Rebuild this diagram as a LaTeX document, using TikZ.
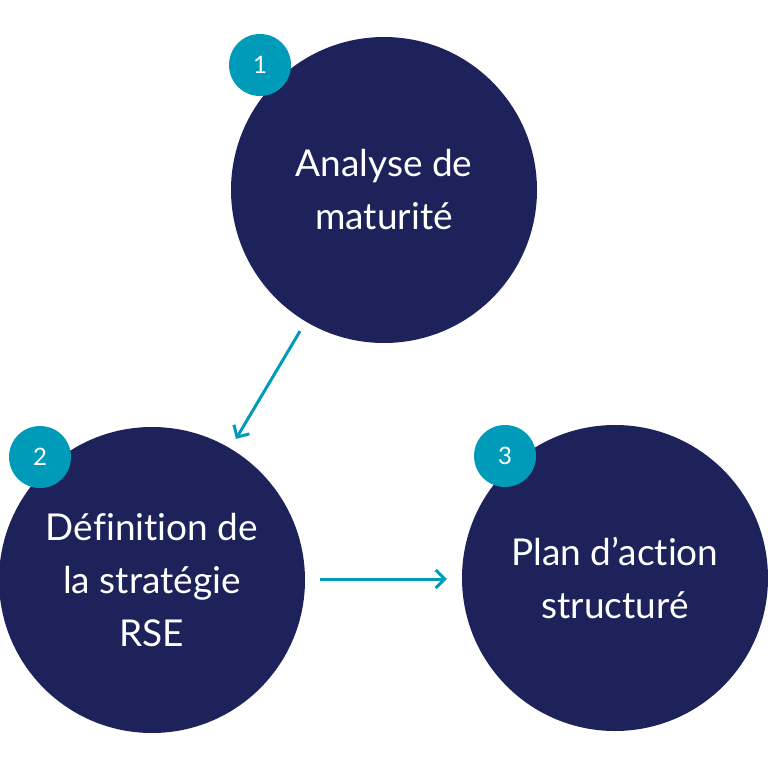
\documentclass[tikz,border=0pt]{standalone}
\usepackage{fontspec}
\setmainfont{Lato}[Ligatures={NoCommon, NoRequired, NoContextual}]
\usetikzlibrary{arrows.meta, positioning}

\definecolor{navy}{RGB}{30,34,90}
\definecolor{teal}{RGB}{0,155,185}

\begin{document}
\begin{tikzpicture}[x=1pt, y=-1pt]
        \tikzstyle{etape} = [circle, fill=navy, text=white, minimum size=306pt, inner sep=0pt, align=center, font=\fontsize{37}{53}\selectfont]
        \tikzstyle{numero} = [circle, fill=teal, text=white, minimum size=62pt, inner sep=0pt, font=\fontsize{24}{26}\selectfont]
        \tikzstyle{fleche} = [draw=teal, line width=3pt, -{Straight Barb[length=9pt, width=18pt]}, shorten <=11pt, shorten >=11pt]

        \useasboundingbox (0,0) rectangle (768,768);

        \node (analyse) [etape] at (384,190) {Analyse de \\ maturité};
        \node (strategie) [etape] at (152,580) {Définition de \\ la stratégie \\ RSE};
        \node (plan) [etape] at (615,578) {Plan d’action \\ structuré};

        \node (num1) [numero] at (260,65) {1};
        \node (num2) [numero] at (40,457) {2};
        \node (num3) [numero] at (505,456) {3};

        \draw [fleche] (analyse) -- (strategie);
        \draw [fleche, shorten <=15pt, shorten >=15pt] (strategie.east |- 0,579) -- (plan.west |- 0,579);
    \end{tikzpicture}
\end{document}
